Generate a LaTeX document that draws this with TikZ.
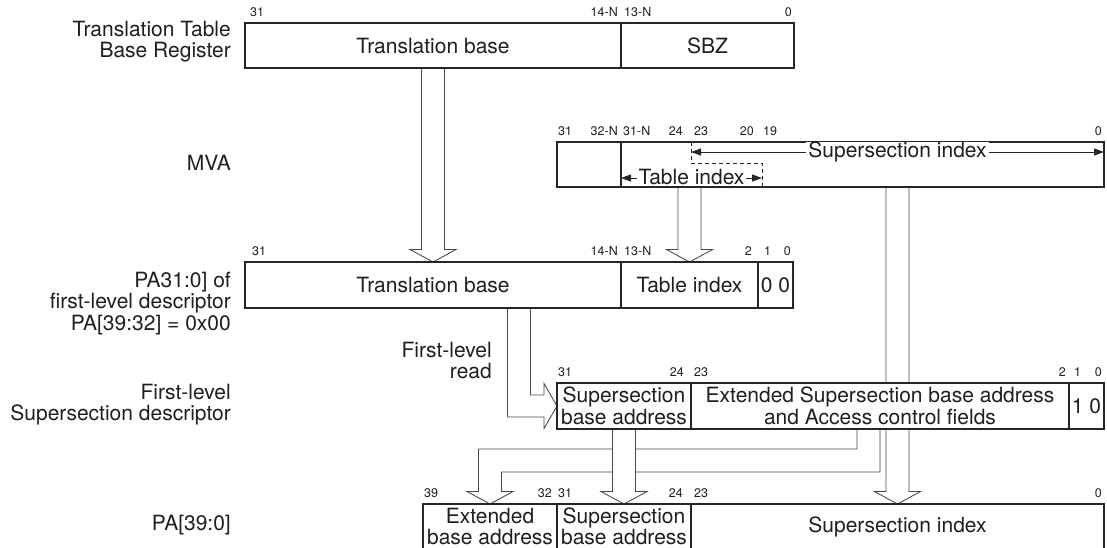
\documentclass[tikz,border=0pt]{standalone}
\usepackage{fontspec}
\setmainfont{TeX Gyre Heros}
\usetikzlibrary{arrows.meta,calc,backgrounds}
\newcommand\hollowdown[2]{%
  \draw[harrow] let \p1=#1, \p2=#2 in
   (\x1-11.5pt,\y1) -- (\x1-11.5pt,\y2+12.5pt) -- (\x1-23pt,\y2+12.5pt) --
   (\x1,\y2) -- (\x1+23pt,\y2+12.5pt) -- (\x1+11.5pt,\y2+12.5pt) -- (\x1+11.5pt,\y1);}
\begin{document}
\begin{tikzpicture}[x=1pt,y=-1pt,
  field/.style={draw=black!85, line width=1.1pt, fill=white, inner sep=0pt, outer sep=0pt,
    anchor=north west, align=center, font=\fontsize{21}{21.5}\selectfont, text=black!88},
  bitlbl/.style={inner sep=0pt, font=\fontsize{12.5}{13}\selectfont, text=black!88},
  sidelbl/.style={inner sep=0pt, anchor=east, align=right, font=\fontsize{21}{21}\selectfont, text=black!88},
  harrow/.style={draw=black!72, line width=0.85pt, fill=white, line join=miter},
  dimline/.style={line width=0.9pt, draw=black!85,
    {Triangle[length=10pt,width=7pt]}-{Triangle[length=10pt,width=7pt]}},
  dashline/.style={line width=0.9pt, draw=black!85, dash pattern=on 4pt off 3pt},
  dimtext/.style={fill=white, inner xsep=2pt, inner ysep=0pt, font=\fontsize{21}{21.5}\selectfont, text=black!88}
]
\clip (0,0) rectangle (1107,547);

% ---------- side labels ----------
\node[sidelbl] (l1) at (231,42) {Translation Table\\Base Register};
\node[sidelbl] (l2) at (231,163) {MVA};
\node[sidelbl] (l3) at (231,293) {PA31:0] of\\first-level descriptor};
\node[sidelbl] (l4) at (231,325) {PA[39:32] = 0x00};
\node[sidelbl] (l5) at (231,405) {First-level\\Supersection descriptor};
\node[sidelbl] (l6) at (231,525) {PA[39:0]};
\node[sidelbl] (l7) at (492,360.5) {First-level\\read};

% ---------- TTBR ----------
\node[field, minimum width=376pt, minimum height=45pt] (tb1) at (245,23) {Translation base};
\node[field, minimum width=173pt, minimum height=45pt] (sbz) at (621,23) {SBZ};
\node[bitlbl, anchor=west] at (250,12) {31};
\node[bitlbl, anchor=east] at (618,12) {14-N};
\node[bitlbl, anchor=west] at (624,12) {13-N};
\node[bitlbl, anchor=east] at (792,12) {0};

% ---------- MVA ----------
\node[field, minimum width=64pt, minimum height=45pt] (m1) at (557,142) {};
\node[field, minimum width=483pt, minimum height=45pt] (m2) at (621,142) {};
\node[bitlbl, anchor=west] at (558,131) {31};
\node[bitlbl, anchor=east] at (618,131) {32-N};
\node[bitlbl, anchor=west] at (623,131) {31-N};
\node[bitlbl, anchor=east] at (683,131) {24};
\node[bitlbl, anchor=west] at (694,131) {23};
\node[bitlbl, anchor=east] at (754,131) {20};
\node[bitlbl, anchor=west] at (763,131) {19};
\node[bitlbl, anchor=east] at (1102,131) {0};
\draw[dashline] (691,142) -- (691,163) -- (762,163) -- (762,187);
\coordinate (ssl) at (691,152);
\coordinate (ssr) at (1104,152);
\draw[dimline] (ssl) -- (ssr);
\node[dimtext] (sst) at (897.5,152) {Supersection index};
\coordinate (til) at (621,178);
\coordinate (tir) at (762,178);
\draw[dimline] (til) -- (tir);
\node[dimtext] (tit) at (691.5,177) {Table index};

% ---------- PA of first-level descriptor ----------
\node[field, minimum width=376pt, minimum height=46pt] (p1) at (245,262) {Translation base};
\node[field, minimum width=137pt, minimum height=46pt] (p2) at (621,262) {Table index};
\node[field, minimum width=35pt, minimum height=46pt] (p3) at (758,262) {0 0};
\node[bitlbl, anchor=west] at (252,251) {31};
\node[bitlbl, anchor=east] at (618,251) {14-N};
\node[bitlbl, anchor=west] at (624,251) {13-N};
\node[bitlbl, anchor=east] at (752,251) {2};
\node[bitlbl, anchor=west] at (764,251) {1};
\node[bitlbl, anchor=east] at (791,251) {0};

% ---------- first-level supersection descriptor ----------
\node[field, minimum width=134pt, minimum height=46pt] (d1) at (557,383) {Supersection\\base address};
\node[field, minimum width=378pt, minimum height=46pt] (d2) at (691,383) {Extended Supersection base address\\and Access control fields};
\node[field, minimum width=35pt, minimum height=46pt] (d3) at (1069,383) {1 0};
\node[bitlbl, anchor=west] at (558,372) {31};
\node[bitlbl, anchor=east] at (684,372) {24};
\node[bitlbl, anchor=west] at (694,372) {23};
\node[bitlbl, anchor=east] at (1066,372) {2};
\node[bitlbl, anchor=west] at (1074,372) {1};
\node[bitlbl, anchor=east] at (1102,372) {0};

% ---------- PA[39:0] ----------
\node[field, minimum width=134pt, minimum height=45pt] (q1) at (423,504) {Extended\\base address};
\node[field, minimum width=134pt, minimum height=45pt] (q2) at (557,504) {Supersection\\base address};
\node[field, minimum width=413pt, minimum height=45pt] (q3) at (691,504) {Supersection index};
\node[bitlbl, anchor=west] at (424,493) {39};
\node[bitlbl, anchor=east] at (552,493) {32};
\node[bitlbl, anchor=west] at (558,493) {31};
\node[bitlbl, anchor=east] at (683,493) {24};
\node[bitlbl, anchor=west] at (694,493) {23};
\node[bitlbl, anchor=east] at (1102,493) {0};

\coordinate (readsrc) at (519,308);
\coordinate (splitsrc) at (868.5,429);

% ---------- hollow arrows (behind the fields) ----------
\begin{scope}[on background layer]
  \fill[white] (0,0) rectangle (1107,547);
  % split arrow: descriptor -> extended base address
  \draw[harrow] let \p1=(splitsrc), \p2=(q1.north) in
    (\x1-11.5pt,\y1) -- (\x1-11.5pt,\y1-20pt) -- (\x2-11.5pt,\y1-20pt) --
    (\x2-11.5pt,\y2+12.5pt) -- (\x2-23pt,\y2+12.5pt) -- (\x2,\y2) --
    (\x2+23pt,\y2+12.5pt) -- (\x2+11.5pt,\y2+12.5pt) -- (\x2+11.5pt,\y1-43pt) --
    (\x1+11.5pt,\y1-43pt) -- (\x1+11.5pt,\y1);
  \hollowdown{(d1.south)}{(q2.north)}
  \hollowdown{(q3.north |- m2.south)}{(q3.north)}
  \hollowdown{(tb1.south)}{(p1.north)}
  \hollowdown{(p2.north |- m2.south)}{(p2.north)}
  % first-level read
  \draw[harrow] let \p1=(readsrc), \p2=(d1.west) in
    (\x1-11.5pt,\y1) -- (\x1-11.5pt,\y2-11pt) -- (\x2-13pt,\y2-11pt) --
    (\x2-13pt,\y2-22.5pt) -- (\x2,\y2) -- (\x2-13pt,\y2+22.5pt) --
    (\x2-13pt,\y2+11pt) -- (\x1+11.5pt,\y2+11pt) -- (\x1+11.5pt,\y1);
\end{scope}
\end{tikzpicture}
\end{document}
